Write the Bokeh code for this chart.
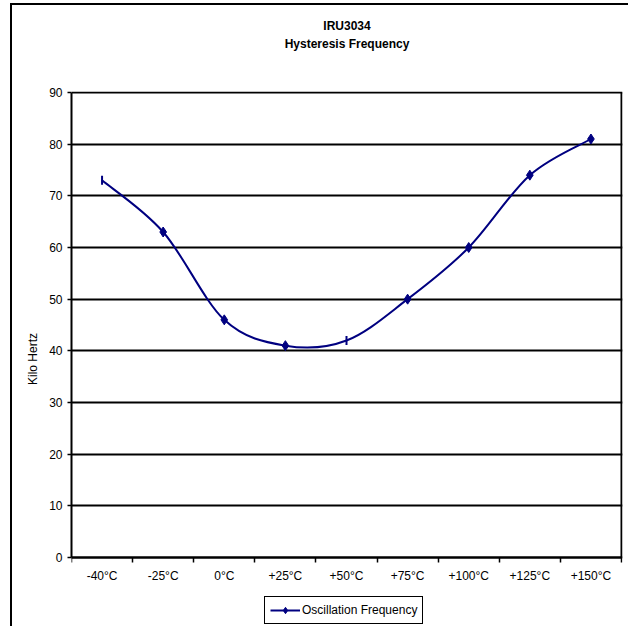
import numpy as np
from bokeh.plotting import figure
from bokeh.models import (ColumnDataSource, FixedTicker, Legend, LegendItem, Title,
                          CDSView, IndexFilter, Range1d)
from bokeh.embed import file_html
from bokeh.resources import INLINE

# ---------------- data ----------------
title_line1 = "IRU3034"
title_line2 = "Hysteresis Frequency"
categories = ["-40°C", "-25°C", "0°C", "+25°C", "+50°C", "+75°C", "+100°C", "+125°C", "+150°C"]
freq_khz = [73, 63, 46, 41, 42, 50, 60, 74, 81]
y_ticks = [0, 10, 20, 30, 40, 50, 60, 70, 80, 90]
series_name = "Oscillation Frequency"
y_label = "Kilo Hertz"
tick_marker_points = [0, 4]          # points drawn as vertical ticks in the original
diamond_points = [1, 2, 3, 5, 6, 7, 8]

FONT = "Liberation Sans"
FS = "12px"
NAVY = "#000080"

# ---------------- geometry (pixels) ----------------
PLOT_W, PLOT_H = 550, 465            # size of the 0..90 plotting box
EXTRA_BOTTOM = 69                    # room under the x axis for tick labels and legend
PAD = 1                              # so border lines are not clipped at the frame edge

xs = np.arange(len(categories), dtype=float)
ys = np.array(freq_khz, dtype=float)
x_lo, x_hi = -0.5, len(categories) - 0.5
y_lo, y_hi = y_ticks[0], y_ticks[-1]
px_x = PLOT_W / (x_hi - x_lo)
px_y = PLOT_H / (y_hi - y_lo)

# smoothed line (Catmull-Rom -> cubic Bezier), built from the data points
xp = np.concatenate([[xs[0]], xs, [xs[-1]]])
yp = np.concatenate([[ys[0]], ys, [ys[-1]]])
seg = dict(x0=[], y0=[], x1=[], y1=[], cx0=[], cy0=[], cx1=[], cy1=[])
for i in range(len(xs) - 1):
    a, b, c, d = i, i + 1, i + 2, i + 3
    seg["x0"].append(xp[b]); seg["y0"].append(yp[b])
    seg["x1"].append(xp[c]); seg["y1"].append(yp[c])
    seg["cx0"].append(xp[b] + (xp[c] - xp[a]) / 6); seg["cy0"].append(yp[b] + (yp[c] - yp[a]) / 6)
    seg["cx1"].append(xp[c] - (xp[d] - xp[b]) / 6); seg["cy1"].append(yp[c] - (yp[d] - yp[b]) / 6)
curve_src = ColumnDataSource(seg)
pts_src = ColumnDataSource(dict(x=xs, y=ys))

p = figure(frame_width=PLOT_W + PAD, frame_height=PLOT_H + EXTRA_BOTTOM + PAD,
           x_range=Range1d(x_lo, x_hi + PAD / px_x),
           y_range=Range1d(y_lo - EXTRA_BOTTOM / px_y, y_hi + PAD / px_y),
           output_backend="svg", toolbar_location=None,
           min_border_left=59, min_border_right=6, min_border_top=86, min_border_bottom=0,
           background_fill_color="white", border_fill_color="white")
p.styles = {"border-left": "2px solid black", "border-top": "2px solid black",
            "margin-top": "3px", "margin-left": "10px"}
p.outline_line_color = None

# titles (first added sits closest to the plot area; the blank one is spacing)
p.add_layout(Title(text=" ", align="center", text_font=FONT, text_font_size=FS,
                   text_font_style="bold", standoff=23), "above")
p.add_layout(Title(text=title_line2, align="center", text_font=FONT, text_font_size=FS,
                   text_font_style="bold", text_color="black", standoff=4), "above")
p.add_layout(Title(text=title_line1, align="center", text_font=FONT, text_font_size=FS,
                   text_font_style="bold", text_color="black", standoff=0), "above")

# grid
p.xgrid.grid_line_color = None
p.ygrid.ticker = FixedTicker(ticks=y_ticks)
p.ygrid.grid_line_color = "black"
p.ygrid.grid_line_width = 2
p.ygrid.bounds = (x_lo, x_hi)

# right border of the plotting box
p.segment(x0=[x_hi], y0=[y_lo], x1=[x_hi], y1=[y_hi], line_color="black", line_width=2)

# y axis
yax = p.yaxis[0]
yax.ticker = FixedTicker(ticks=y_ticks)
yax.bounds = (y_lo, y_hi)
yax.axis_line_width = 2
yax.major_tick_line_width = 1.5
yax.major_tick_out = 4
yax.major_tick_in = 0
yax.minor_tick_line_color = None
yax.major_label_standoff = 5
yax.major_label_text_font = FONT
yax.major_label_text_font_size = FS
yax.major_label_text_color = "black"
yax.axis_label = y_label
yax.axis_label_text_font = FONT
yax.axis_label_text_font_size = FS
yax.axis_label_text_font_style = "normal"
yax.axis_label_text_color = "black"
yax.axis_label_standoff = 6

# x axis, fixed at y = 0 inside the frame
xax = p.xaxis[0]
xax.fixed_location = y_lo
xax.bounds = (x_lo, x_hi)
xax.ticker = FixedTicker(ticks=list(xs), minor_ticks=list(np.arange(x_lo, x_hi + 0.01, 1.0)))
xax.major_label_overrides = {int(i): c for i, c in enumerate(categories)}
xax.axis_line_width = 2
xax.major_tick_line_color = None
xax.major_tick_out = 5
xax.major_tick_in = 0
xax.minor_tick_line_color = "black"
xax.minor_tick_line_width = 1.5
xax.minor_tick_out = 5
xax.minor_tick_in = 0
xax.major_label_standoff = 6
xax.major_label_text_font = FONT
xax.major_label_text_font_size = FS
xax.major_label_text_color = "black"

# series
p.bezier(x0="x0", y0="y0", x1="x1", y1="y1", cx0="cx0", cy0="cy0", cx1="cx1", cy1="cy1",
         source=curve_src, line_color=NAVY, line_width=2)
diamonds = p.scatter("x", "y", source=pts_src, view=CDSView(filter=IndexFilter(diamond_points)),
                     marker="diamond", size=10, fill_color=NAVY, line_color=NAVY)
p.scatter("x", "y", source=pts_src, view=CDSView(filter=IndexFilter(tick_marker_points)),
          marker="dash", angle=np.pi / 2, size=9, line_color=NAVY, line_width=2)
# line used only for the legend swatch (a single undefined point draws nothing on the plot)
legend_line = p.line(x=[xs[0]], y=[np.nan], line_color=NAVY, line_width=2)

legend = Legend(items=[LegendItem(label=series_name, renderers=[legend_line, diamonds])],
                location=(193, 2), orientation="horizontal",
                border_line_color="black", border_line_width=1.5, border_line_alpha=1,
                background_fill_color="white", background_fill_alpha=1,
                padding=5, margin=0, spacing=0, glyph_width=30, glyph_height=16,
                label_height=16, label_standoff=2,
                label_text_font=FONT, label_text_font_size=FS, label_text_color="black")
p.add_layout(legend)

open("out.html", "w").write(file_html(p, INLINE))
